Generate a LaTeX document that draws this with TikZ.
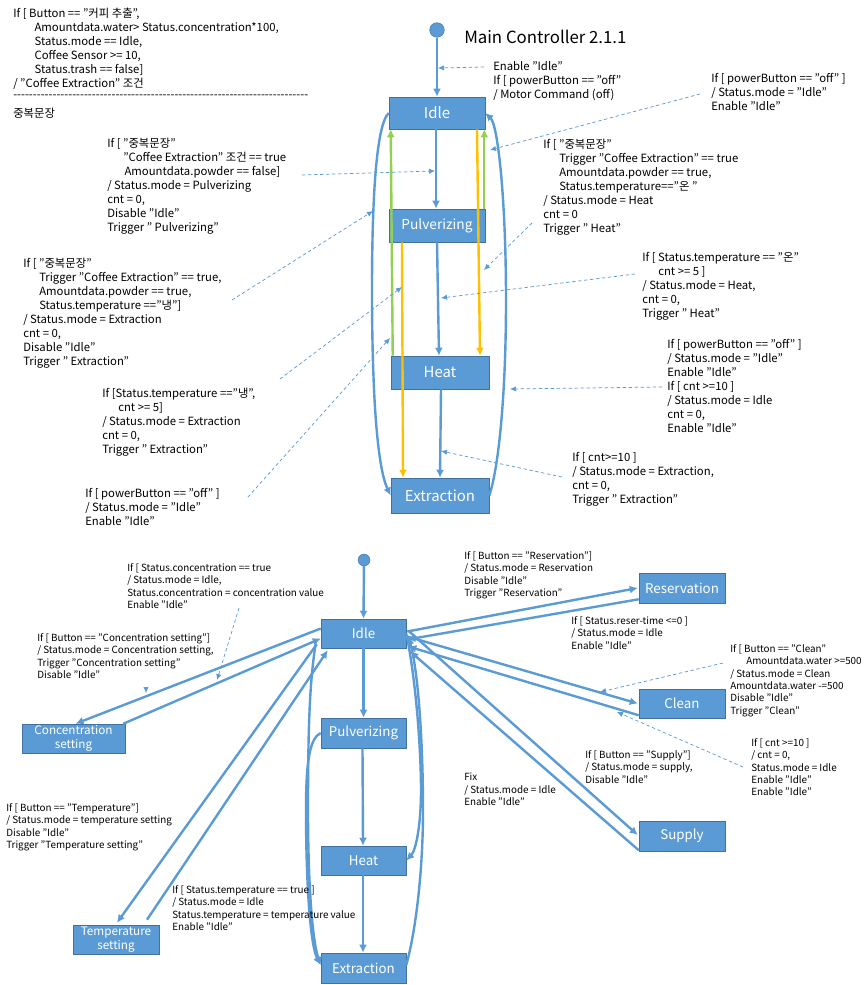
\documentclass[tikz,border=0pt]{standalone}
\usepackage{fontspec}
\setmainfont{Noto Sans CJK KR}
\usetikzlibrary{arrows.meta,calc}
\definecolor{bl}{HTML}{5B9BD5}
\definecolor{bd}{HTML}{41719C}
\definecolor{gn}{HTML}{92D050}
\definecolor{yl}{HTML}{FFC000}
\def\fiveh{-{}-{}-{}-{}-{}}
\def\tenh{\fiveh\fiveh}
\def\ind{\hspace*{12pt}}
\tikzset{
 stbox/.style={draw=bd,line width=0.4pt,fill=bl,text=white,inner sep=0pt,align=center},
 bigbox/.style={stbox,font=\fontsize{11.2pt}{13pt}\selectfont},
 pbox/.style={stbox,font=\fontsize{10.3pt}{13pt}\selectfont},
 medbox/.style={stbox,font=\fontsize{10pt}{11pt}\selectfont},
 smallbox/.style={stbox,font=\fontsize{8.8pt}{10.2pt}\selectfont},
 tA/.style={anchor=north west,inner sep=0pt,align=left,font=\fontsize{8.5pt}{10.5pt}\selectfont},
 tB/.style={anchor=north west,inner sep=0pt,align=left,font=\fontsize{7.4pt}{9.3pt}\selectfont},
 tr/.style={draw=bl,line width=1.8pt,-{Latex[length=6pt,width=6pt]}},
 grn/.style={draw=gn,line width=1.8pt,-{Latex[length=6pt,width=6pt]}},
 ylw/.style={draw=yl,line width=1.8pt,-{Latex[length=6pt,width=6pt]}},
 note/.style={draw=bl,line width=0.55pt,dash pattern=on 2.5pt off 2pt,-{Latex[length=4.5pt,width=4pt]}},
}
\begin{document}
\begin{tikzpicture}[x=0.75pt,y=-0.75pt]
\useasboundingbox (0,0) rectangle (865,985);
\fill[white] (0,0) rectangle (865,985);
% ---------- upper chart
\node[circle,fill=bl,draw=bd,line width=0.3pt,minimum size=11pt,inner sep=0pt] (startA) at (437,30) {};
\node[anchor=west,inner sep=0pt,font=\fontsize{12.6pt}{14pt}\selectfont] (title) at (464,37) {Main Controller 2.1.1};
\node[bigbox,minimum width=72pt,minimum height=24pt] (idleA) at (437,113) {Idle};
\node[pbox,minimum width=72pt,minimum height=24.75pt] (pulvA) at (437,225.5) {Pulverizing};
\node[bigbox,minimum width=73.5pt,minimum height=24.75pt] (heatA) at (440,372.5) {Heat};
\node[bigbox,minimum width=73.5pt,minimum height=26.25pt] (extrA) at (440,495.5) {Extraction};

\draw[tr] (startA) -- (idleA.north);
\draw[tr] ($(idleA.south)+(-1,0)$) -- ($(pulvA.north)+(-1,0)$);
\draw[tr] (pulvA.south) -- ($(heatA.north)+(-1,0)$);
\draw[tr] ($(heatA.south)+(1,0)$) -- ($(extrA.north)+(0,0)$);
\draw[grn] ($(heatA.north west)+(2,0)$) -- ($(idleA.south west)+(2,0)$);
\draw[grn] ($(pulvA.north east)+(-1,0)$) -- ($(idleA.south east)+(-1,0)$);
\draw[ylw] ($(idleA.south)+(40,0)$) -- ($(heatA.north)+(40,0)$);
\draw[ylw] ($(pulvA.south)+(-35,0)$) -- ($(extrA.north)+(-37,0)$);
\draw[tr] (idleA.west) .. controls (376,125) and (372,200) .. (372,290) .. controls (372,380) and (376,465) .. (extrA.west);
\draw[tr] (extrA.east) .. controls (498,470) and (506,400) .. (506,300) .. controls (506,200) and (498,125) .. (idleA.east);

% texts, upper
\node[tA] (ta) at (13,8) {If [ Button == "커피 추출",\\\ind\hspace*{4pt}Amountdata.water> Status.concentration*100,\\\ind\hspace*{4pt}Status.mode == Idle,\\\ind\hspace*{4pt}Coffee Sensor >= 10,\\\ind\hspace*{4pt}Status.trash == false]\\/ "Coffee Extraction" 조건};
\node[tA,anchor=west] (tsep) at (13,97) {\tenh\tenh\tenh\tenh\tenh\tenh\tenh\fiveh};
\node[tA,anchor=west] (tsepb) at (13,113) {중복문장};
\node[tA] (tb) at (107,138) {If [ "중복문장"\\\ind "Coffee Extraction" 조건 == true\\\ind\hspace*{1pt}Amountdata.powder == false]\\/ Status.mode = Pulverizing\\cnt = 0,\\Disable "Idle"\\Trigger " Pulverizing"};
\node[tA] (tc) at (493,61) {Enable "Idle"\\If [ powerButton == "off"\\/ Motor Command (off)};
\node[tA] (td) at (711,73) {If [ powerButton == "off" ]\\/ Status.mode = "Idle"\\Enable "Idle"};
\node[tA] (te) at (543,139) {If [ "중복문장"\\\ind Trigger "Coffee Extraction" == true\\\ind Amountdata.powder == true,\\\ind Status.temperature=="온 "\\/ Status.mode = Heat\\cnt = 0\\Trigger " Heat"};
\node[tA] (tf) at (642,252) {If [ Status.temperature == "온"\\\ind cnt >= 5 ]\\/ Status.mode = Heat,\\cnt = 0,\\Trigger " Heat"};
\node[tA] (tg) at (667,339) {If [ powerButton == "off" ]\\/ Status.mode = "Idle"\\Enable "Idle"\\If [ cnt >=10 ]\\/ Status.mode = Idle\\cnt = 0,\\Enable "Idle"};
\node[tA] (th) at (572,452) {If [ cnt>=10 ]\\/ Status.mode = Extraction,\\cnt = 0,\\Trigger " Extraction"};
\node[tA] (ti) at (23,258) {If [ "중복문장"\\\ind Trigger "Coffee Extraction" == true,\\\ind Amountdata.powder == true,\\\ind Status.temperature =="냉"]\\/ Status.mode = Extraction\\cnt = 0,\\Disable "Idle"\\Trigger " Extraction"};
\node[tA] (tj) at (102,388) {If [Status.temperature =="냉",\\\ind cnt >= 5]\\/ Status.mode = Extraction\\cnt = 0,\\Trigger " Extraction"};
\node[tA] (tk) at (85,488) {If [ powerButton == "off" ]\\/ Status.mode = "Idle"\\Enable "Idle"};

% annotation leaders, upper
\coordinate (n1) at (700,94);  \coordinate (m1) at (490,150);
\coordinate (n2) at (302,175); \coordinate (m2) at (435,171);
\coordinate (n3) at (232,300); \coordinate (m3) at (373,211);
\coordinate (n4) at (280,379); \coordinate (m4) at (402,287);
\coordinate (n5) at (248,497); \coordinate (m5) at (390,338);
\coordinate (n6) at (532,223); \coordinate (m6) at (484,270);
\coordinate (n7) at (635,274); \coordinate (m7) at (441,298);
\coordinate (n8) at (662,387); \coordinate (m8) at (510,389);
\coordinate (n9) at (562,477); \coordinate (m9) at (441,451);
\coordinate (n10) at (484,67); \coordinate (m10) at (438,68);
\foreach \i in {1,...,10} {\draw[note] (n\i) -- (m\i);}

% ---------- lower chart
\node[circle,fill=bl,draw=bd,line width=0.3pt,minimum size=9pt,inner sep=0pt] (startB) at (364,560) {};
\node[medbox,minimum width=63.75pt,minimum height=21.75pt] (idleB) at (363.5,633.5) {Idle};
\node[medbox,minimum width=63.75pt,minimum height=22.5pt] (pulvB) at (363.5,733) {Pulverizing};
\node[medbox,minimum width=63.75pt,minimum height=21.75pt] (heatB) at (363.5,860.5) {Heat};
\node[medbox,minimum width=63.75pt,minimum height=22.5pt] (extrB) at (363.5,968) {Extraction};
\node[smallbox,minimum width=77.25pt,minimum height=21.75pt] (conc) at (73.5,738.5) {Concentration\\setting};
\node[smallbox,minimum width=64.5pt,minimum height=21.75pt] (temp) at (116,939.5) {Temperature\\setting};
\node[medbox,minimum width=64.5pt,minimum height=22.5pt] (res) at (682,588) {Reservation};
\node[medbox,minimum width=64.5pt,minimum height=21.75pt] (clean) at (682,703.5) {Clean};
\node[medbox,minimum width=64.5pt,minimum height=22.5pt] (sup) at (682,836) {Supply};

\draw[tr] (startB) -- (idleB.north);
\draw[tr] (idleB.south) -- (pulvB.north);
\draw[tr] ($(pulvB.south)+(-1,0)$) -- ($(heatB.north)+(-0.5,0)$);
\draw[tr] ($(heatB.south)+(-0.5,0)$) -- ($(extrB.north)+(-0.5,0)$);

\draw[tr] ($(idleB.west)+(0,-5)$) -- ($(conc.north)+(2,0)$);
\draw[tr] ($(conc.north east)+(-2,0)$) -- ($(idleB.west)+(0,5)$);
\draw[tr] ($(idleB.south west)+(-4,-4)$) -- ($(temp.north)+(1,-2)$);
\draw[tr] ($(temp.north)+(31,-5)$) -- ($(idleB.south west)+(7,2)$);

\draw[tr] (pulvB.west) .. controls (310,738) and (306,760) .. (306,810) .. controls (306,880) and (310,945) .. ($(extrB.west)+(0,-3)$);
\draw[tr] ($(idleB.south west)+(-5,-5)$) .. controls (310,680) and (308,720) .. (308,810) .. controls (308,880) and (312,940) .. ($(extrB.west)+(0,-3)$);
\draw[tr] (idleB.east) .. controls (416,680) and (421,750) .. (421,790) .. controls (421,825) and (416,850) .. (heatB.east);
\draw[tr] ($(extrB.east)+(0,-3)$) .. controls (416,930) and (423,870) .. (423,810) .. controls (423,740) and (418,670) .. ($(idleB.east)+(2,3)$);

\draw[tr] ($(idleB.east)+(1,-2)$) -- ($(res.west)+(-1,0)$);
\draw[tr] ($(res.south west)+(0,-4)$) -- ($(idleB.east)+(1,6)$);
\draw[tr] ($(idleB.east)+(1,3)$) -- ($(clean.west)+(-1,0)$);
\draw[tr] ($(clean.south west)+(0,-3)$) -- ($(idleB.east)+(2,13)$);
\draw[tr] ($(idleB.east)+(3,-2)$) -- ($(sup.west)+(-1,-1)$);
\draw[tr] ($(sup.south west)+(0,-1)$) -- ($(idleB.east)+(4,18)$);

% texts, lower
\node[tB] (tl) at (127,563) {If [ Status.concentration == true\\/ Status.mode = Idle,\\Status.concentration = concentration value\\Enable "Idle"};
\node[tB] (tm) at (37,633) {If [ Button == "Concentration setting"]\\/ Status.mode = Concentration setting,\\Trigger "Concentration setting"\\Disable "Idle"};
\node[tB] (tn) at (464,551) {If [ Button == "Reservation"]\\/ Status.mode = Reservation\\Disable "Idle"\\Trigger "Reservation"};
\node[tB] (to) at (571,616) {If [ Status.reser-time <=0 ]\\/ Status.mode = Idle\\Enable "Idle"};
\node[tB] (tp) at (730,644) {If [ Button == "Clean"\\\ind Amountdata.water >=500\\/ Status.mode = Clean\\Amountdata.water -=500\\Disable "Idle"\\Trigger "Clean"};
\node[tB] (tq) at (751,738) {If [ cnt >=10 ]\\/ cnt = 0,\\Status.mode = Idle\\Enable "Idle"\\Enable "Idle"};
\node[tB] (tr) at (585,750) {If [ Button == "Supply"]\\/ Status.mode = supply,\\Disable "Idle"};
\node[tB] (ts) at (464,773) {Fix\\/ Status.mode = Idle\\Enable "Idle"};
\node[tB] (tt) at (6,803) {If [ Button == "Temperature"]\\/ Status.mode = temperature setting\\Disable "Idle"\\Trigger "Temperature setting"};
\node[tB] (tu) at (172,885) {If [ Status.temperature == true ]\\/ Status.mode = Idle\\Status.temperature = temperature value\\Enable "Idle"};

% annotation leaders, lower
\coordinate (p1) at (239,608);  \coordinate (q1) at (217,680);
\coordinate (p2) at (146,688);  \coordinate (q2) at (146,693);
\coordinate (p3) at (723,663);  \coordinate (q3) at (600,692);
\coordinate (p4) at (743,767);  \coordinate (q4) at (617,712);
\foreach \i in {1,...,4} {\draw[note] (p\i) -- (q\i);}
\end{tikzpicture}
\end{document}
